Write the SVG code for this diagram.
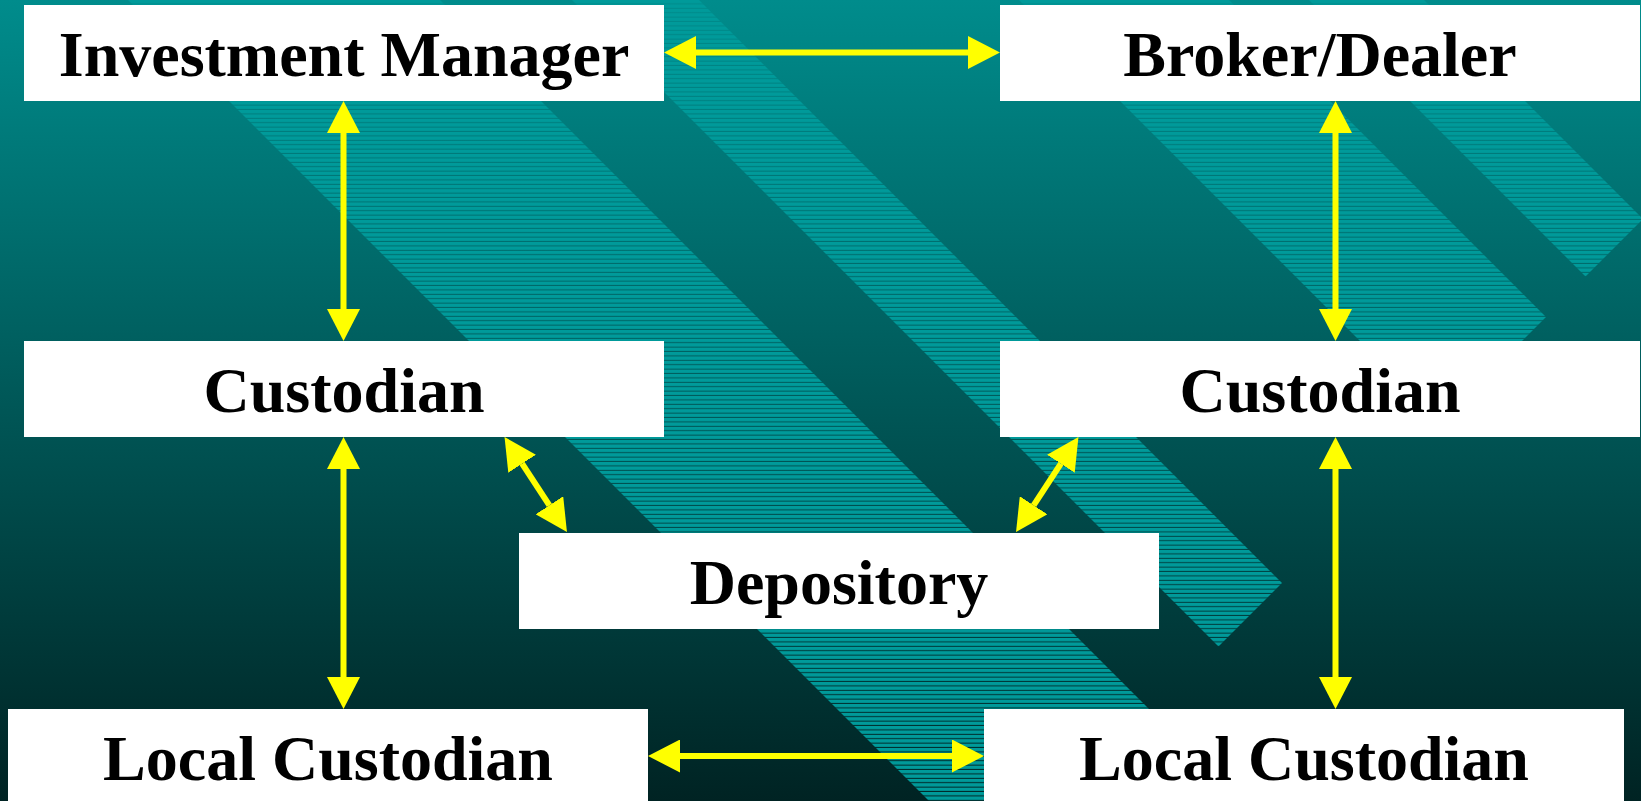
<svg xmlns="http://www.w3.org/2000/svg" width="1641" height="801" viewBox="0 0 1641 801">
  <defs>
    <linearGradient id="bg" x1="0" y1="0" x2="0" y2="1">
      <stop offset="0" stop-color="#008c8c"/>
      <stop offset="1" stop-color="#002323"/>
    </linearGradient>
    <pattern id="hatch" patternUnits="userSpaceOnUse" width="20" height="4.4">
      <rect x="0" y="0" width="20" height="3.4" fill="#009a9a"/>
    </pattern>
    <marker id="head" viewBox="0 0 32 33" refX="0" refY="16.5" markerWidth="32" markerHeight="33" markerUnits="userSpaceOnUse" orient="auto-start-reverse">
      <path d="M0,0 L32,16.5 L0,33 Z" fill="#ffff00"/>
    </marker>
  </defs>
  <style>
    .box { fill: #ffffff; }
    .lbl { font-family: "Liberation Serif", "Times New Roman", serif; font-weight: bold; font-size: 64px; fill: #000000; text-anchor: middle; }
    .arr { stroke: #ffff00; stroke-width: 6; fill: none; marker-start: url(#head); marker-end: url(#head); }
    .band { fill: url(#hatch); }
  </style>

  <rect x="0" y="0" width="1641" height="801" fill="url(#bg)"/>
  <g id="background-bands">
    <polygon class="band" points="118,-10 430,-10 1152.5,712.5 996.5,868.5"/>
    <polygon class="band" points="562,-10 689,-10 1282,583 1218.5,646.5"/>
    <polygon class="band" points="1009,-10 1219,-10 1546,317 1441,422"/>
    <polygon class="band" points="1299,-10 1414,-10 1643,219 1585.5,276.5"/>
  </g>

  <g id="connectors">
    <line class="arr" x1="696" y1="52.5" x2="968" y2="52.5"/>
    <line class="arr" x1="343.5" y1="133" x2="343.5" y2="309"/>
    <line class="arr" x1="1335.5" y1="133" x2="1335.5" y2="309"/>
    <line class="arr" x1="343.5" y1="469" x2="343.5" y2="677"/>
    <line class="arr" x1="1335.5" y1="469" x2="1335.5" y2="677"/>
    <line class="arr" x1="680" y1="756" x2="952" y2="756"/>
    <line class="arr" x1="522.1" y1="463.7" x2="549.4" y2="505.3"/>
    <line class="arr" x1="1060.9" y1="463.7" x2="1033.6" y2="505.3"/>
  </g>

  <g id="investment-manager">
    <rect class="box" x="24" y="5" width="640" height="96"/>
    <text class="lbl" x="344" y="76">Investment Manager</text>
  </g>
  <g id="broker-dealer">
    <rect class="box" x="1000" y="5" width="640" height="96"/>
    <text class="lbl" x="1320" y="76">Broker/Dealer</text>
  </g>
  <g id="custodian-left">
    <rect class="box" x="24" y="341" width="640" height="96"/>
    <text class="lbl" x="344" y="412">Custodian</text>
  </g>
  <g id="custodian-right">
    <rect class="box" x="1000" y="341" width="640" height="96"/>
    <text class="lbl" x="1320" y="412">Custodian</text>
  </g>
  <g id="depository">
    <rect class="box" x="519" y="533" width="640" height="96"/>
    <text class="lbl" x="839" y="604">Depository</text>
  </g>
  <g id="local-custodian-left">
    <rect class="box" x="8" y="709" width="640" height="96"/>
    <text class="lbl" x="328" y="780">Local Custodian</text>
  </g>
  <g id="local-custodian-right">
    <rect class="box" x="984" y="709" width="640" height="96"/>
    <text class="lbl" x="1304" y="780">Local Custodian</text>
  </g>
</svg>
